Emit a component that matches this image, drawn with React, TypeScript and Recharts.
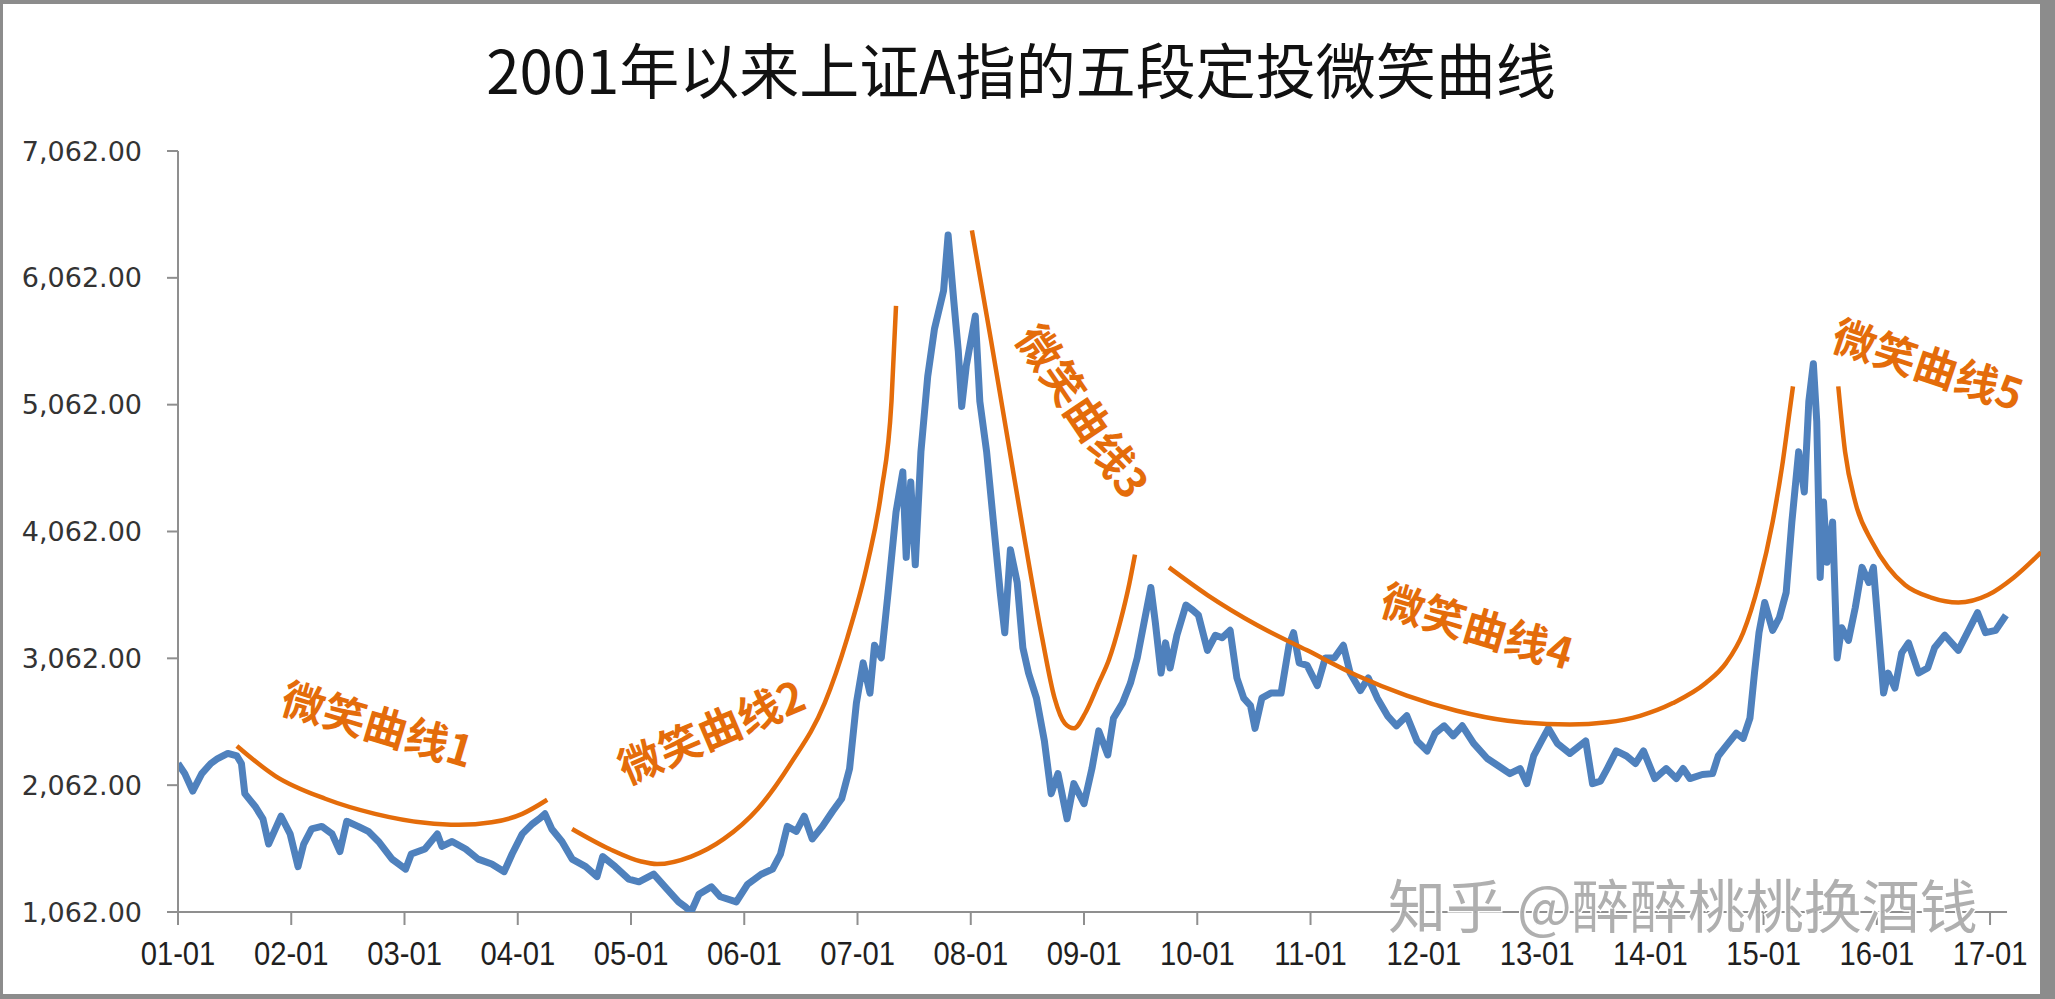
import { LineChart, Line, XAxis, YAxis, ReferenceLine, ReferenceDot } from "recharts";

// 上证A指 (fractional year, index level)
const indexDates = [
  2001.0, 2001.06, 2001.13, 2001.21, 2001.29, 2001.35, 2001.44, 2001.52, 2001.56, 2001.59,
  2001.68, 2001.75, 2001.8, 2001.86, 2001.91, 2001.99, 2002.06, 2002.11, 2002.18, 2002.27,
  2002.36, 2002.43, 2002.49, 2002.59, 2002.68, 2002.77, 2002.89, 2003.01, 2003.06, 2003.18,
  2003.29, 2003.33, 2003.42, 2003.54, 2003.65, 2003.77, 2003.88, 2003.95, 2004.04, 2004.13,
  2004.19, 2004.24, 2004.3, 2004.39, 2004.48, 2004.6, 2004.7, 2004.75, 2004.86, 2004.98,
  2005.07, 2005.2, 2005.32, 2005.42, 2005.48, 2005.53, 2005.6, 2005.71, 2005.79, 2005.93,
  2006.03, 2006.15, 2006.25, 2006.32, 2006.38, 2006.46, 2006.53, 2006.6, 2006.69, 2006.78,
  2006.86, 2006.93, 2006.99, 2007.05, 2007.11, 2007.15, 2007.21, 2007.27, 2007.34, 2007.4,
  2007.43, 2007.47, 2007.51, 2007.56, 2007.62, 2007.68, 2007.76, 2007.8, 2007.85, 2007.89,
  2007.92, 2007.96, 2008.04, 2008.08, 2008.14, 2008.2, 2008.26, 2008.3, 2008.35, 2008.41,
  2008.46, 2008.51, 2008.58, 2008.65, 2008.71, 2008.77, 2008.85, 2008.91, 2009.0, 2009.07,
  2009.13, 2009.21, 2009.26, 2009.34, 2009.41, 2009.47, 2009.53, 2009.59, 2009.63, 2009.68,
  2009.72, 2009.76, 2009.82, 2009.9, 2009.96, 2010.01, 2010.09, 2010.16, 2010.22, 2010.29,
  2010.35, 2010.41, 2010.47, 2010.51, 2010.57, 2010.65, 2010.74, 2010.81, 2010.85, 2010.9,
  2010.97, 2011.06, 2011.13, 2011.21, 2011.29, 2011.35, 2011.44, 2011.51, 2011.59, 2011.68,
  2011.76, 2011.85, 2011.94, 2012.03, 2012.1, 2012.18, 2012.26, 2012.34, 2012.44, 2012.56,
  2012.66, 2012.76, 2012.85, 2012.91, 2012.97, 2013.04, 2013.1, 2013.18, 2013.29, 2013.43,
  2013.49, 2013.56, 2013.62, 2013.7, 2013.79, 2013.87, 2013.94, 2014.04, 2014.14, 2014.23,
  2014.29, 2014.35, 2014.46, 2014.55, 2014.6, 2014.67, 2014.76, 2014.82, 2014.88, 2014.92,
  2014.96, 2015.01, 2015.08, 2015.14, 2015.2, 2015.25, 2015.31, 2015.36, 2015.4, 2015.44,
  2015.47, 2015.5, 2015.53, 2015.56, 2015.61, 2015.65, 2015.69, 2015.75, 2015.81, 2015.87,
  2015.93, 2015.97, 2016.01, 2016.06, 2016.1, 2016.16, 2016.22, 2016.28, 2016.37, 2016.45,
  2016.51, 2016.6, 2016.72, 2016.8, 2016.89, 2016.96, 2017.05, 2017.14,
];
const indexValues = [
  2233, 2153, 2015, 2153, 2233, 2272, 2312, 2292, 2233, 1995,
  1896, 1797, 1598, 1717, 1817, 1678, 1420, 1598, 1717, 1737,
  1678, 1539, 1777, 1737, 1698, 1618, 1479, 1400, 1519, 1559,
  1678, 1579, 1618, 1559, 1479, 1440, 1380, 1519, 1678, 1757,
  1797, 1836, 1717, 1618, 1479, 1420, 1341, 1499, 1420, 1321,
  1300, 1360, 1241, 1142, 1103, 1062, 1202, 1261, 1182, 1142,
  1281, 1360, 1400, 1519, 1737, 1698, 1817, 1638, 1737, 1856,
  1955, 2193, 2709, 3026, 2788, 3165, 3065, 3581, 4215, 4532,
  3858, 4453, 3799, 4691, 5286, 5662, 5960, 6400, 5880, 5484,
  5048, 5365, 5761, 5088, 4691, 4136, 3581, 3264, 3918, 3660,
  3145, 2946, 2748, 2411, 1995, 2153, 1797, 2074, 1916, 2193,
  2490, 2300, 2590, 2709, 2867, 3065, 3343, 3620, 3343, 2946,
  3184, 2986, 3244, 3482, 3442, 3402, 3125, 3244, 3224, 3283,
  2907, 2748, 2689, 2510, 2748, 2788, 2788, 3165, 3264, 3026,
  3006, 2847, 3065, 3065, 3165, 2946, 2808, 2907, 2748, 2609,
  2530, 2609, 2411, 2332, 2471, 2530, 2451, 2530, 2391, 2272,
  2213, 2153, 2193, 2074, 2292, 2411, 2510, 2391, 2312, 2411,
  2074, 2094, 2193, 2332, 2292, 2233, 2332, 2114, 2193, 2114,
  2193, 2114, 2146, 2153, 2292, 2372, 2471, 2431, 2590, 2946,
  3264, 3502, 3283, 3383, 3581, 4136, 4691, 4374, 5088, 5385,
  4929, 3700, 4294, 3819, 4136, 3065, 3303, 3204, 3462, 3779,
  3660, 3779, 3343, 2788, 2946, 2827, 3105, 3184, 2946, 2986,
  3145, 3244, 3125, 3264, 3422, 3264, 3283, 3402,
];

// the five hand-drawn smile curves
const smile1Dates = [2001.52, 2001.86, 2002.3, 2002.74, 2003.18, 2003.48, 2003.77, 2004.04, 2004.26];
const smile1Values = [2371, 2134, 1955, 1836, 1765, 1749, 1769, 1836, 1947];
const smile2Dates = [2004.48, 2004.81, 2005.09, 2005.23, 2005.53, 2005.82, 2006.12, 2006.41, 2006.71, 2006.91, 2007.09, 2007.21, 2007.3, 2007.34];
const smile2Values = [1717, 1559, 1460, 1440, 1499, 1638, 1876, 2233, 2709, 3224, 3819, 4374, 5088, 5841];
const smile3Dates = [2008.01, 2008.18, 2008.33, 2008.48, 2008.63, 2008.74, 2008.83, 2008.91, 2009.01, 2009.13, 2009.22, 2009.32, 2009.4, 2009.45];
const smile3Values = [6436, 5563, 4770, 3978, 3224, 2748, 2550, 2510, 2629, 2867, 3050, 3350, 3650, 3880];
const smile4Dates = [2009.75, 2010.09, 2010.53, 2010.97, 2011.41, 2011.85, 2012.29, 2012.74, 2013.29, 2013.62, 2013.91, 2014.2, 2014.49, 2014.67, 2014.82, 2014.96, 2015.08, 2015.17, 2015.23, 2015.26];
const smile4Values = [3779, 3561, 3323, 3125, 2927, 2768, 2649, 2570, 2540, 2558, 2609, 2709, 2867, 3026, 3264, 3660, 4136, 4612, 5008, 5206];
const smile5Dates = [2015.66, 2015.72, 2015.81, 2015.96, 2016.1, 2016.25, 2016.48, 2016.72, 2016.98, 2017.21, 2017.45];
const smile5Values = [5206, 4691, 4294, 3977, 3779, 3640, 3541, 3502, 3561, 3700, 3898];

const smileLabels = ["微笑曲线1", "微笑曲线2", "微笑曲线3", "微笑曲线4", "微笑曲线5"];
const smileLabelDates = [2002.77, 2005.7, 2009.01, 2012.48, 2016.46];
const smileLabelValues = [2561, 2506, 5023, 3334, 5398];
const smileLabelAngles = [16.6, -23, 56, 16.6, 18.5];

const xTicks = [2001, 2002, 2003, 2004, 2005, 2006, 2007, 2008, 2009, 2010, 2011, 2012, 2013, 2014, 2015, 2016, 2017];
const xTickLabels = ["01-01", "02-01", "03-01", "04-01", "05-01", "06-01", "07-01", "08-01", "09-01", "10-01", "11-01", "12-01", "13-01", "14-01", "15-01", "16-01", "17-01"];
const yTicks = [1062, 2062, 3062, 4062, 5062, 6062, 7062];
const yTickLabels = ["1,062.00", "2,062.00", "3,062.00", "4,062.00", "5,062.00", "6,062.00", "7,062.00"];

const xStart = 2001;
const xEnd = 2017.45;
const axisEnd = 2017.15;

const zip = (dates: number[], values: number[]) => dates.map((d, i) => ({ d, v: values[i] }));

const indexData = zip(indexDates, indexValues);
const smiles = [
  zip(smile1Dates, smile1Values),
  zip(smile2Dates, smile2Values),
  zip(smile3Dates, smile3Values),
  zip(smile4Dates, smile4Values),
  zip(smile5Dates, smile5Values),
];

const BLUE = "#4f81bd";
const ORANGE = "#e46c0a";
const AXIS = "#8f8f8f";

const XTick = (props: any) => {
  const { x, y, payload } = props;
  const label = xTickLabels[xTicks.indexOf(payload.value)];
  return (
    <g transform={`translate(${x},${y})`}>
      <text
        x={0}
        y={0}
        dy="0.71em"
        textAnchor="middle"
        transform="scale(0.86,1)"
        fontFamily="'Liberation Sans', Arial, sans-serif"
        fontSize={34}
        fill="#1f1f1f"
      >
        {label}
      </text>
    </g>
  );
};

const smileLabel = (text: string, angle: number) => (props: any) => {
  const vb = props.viewBox || {};
  const cx = (vb.x || 0) + (vb.width || 0) / 2;
  const cy = (vb.y || 0) + (vb.height || 0) / 2;
  return (
    <text
      x={cx}
      y={cy}
      transform={`rotate(${angle} ${cx} ${cy})`}
      textAnchor="middle"
      dominantBaseline="central"
      fontFamily="'Noto Sans CJK SC', sans-serif"
      fontWeight={700}
      fontSize={43}
      fill={ORANGE}
    >
      {text}
    </text>
  );
};

export default function App() {
  return (
    <div style={{ position: "absolute", left: 0, top: 0, width: 2055, height: 999, background: "#8c8c8c" }}>
      <div style={{ position: "absolute", left: 3, top: 4, width: 2037, height: 990, background: "#ffffff" }} />

      <div style={{ position: "absolute", left: 0, top: 0 }}>
        <LineChart width={2055} height={999} margin={{ top: 151, right: 14, bottom: 37, left: 0 }}>
          <XAxis
            type="number"
            dataKey="d"
            domain={[xStart, xEnd]}
            allowDataOverflow
            ticks={xTicks}
            interval={0}
            axisLine={false}
            tickLine={{ stroke: AXIS, strokeWidth: 2 }}
            tickSize={13}
            tickMargin={16}
            height={50}
            tick={<XTick />}
          />
          <YAxis
            type="number"
            domain={[1062, 7062]}
            allowDataOverflow
            ticks={yTicks}
            interval={0}
            width={178}
            axisLine={{ stroke: AXIS, strokeWidth: 2 }}
            tickLine={{ stroke: AXIS, strokeWidth: 2 }}
            tickSize={11}
            tickMargin={25}
            tickFormatter={(v: number) => yTickLabels[yTicks.indexOf(v)]}
            tick={{ fontFamily: "'DejaVu Sans', sans-serif", fontSize: 27, fill: "#333333" }}
          />
          <ReferenceLine
            segment={[{ x: xStart, y: 1062 }, { x: axisEnd, y: 1062 }]}
            stroke={AXIS}
            strokeWidth={2}
            ifOverflow="visible"
          />
          <Line
            data={indexData}
            dataKey="v"
            type="linear"
            stroke={BLUE}
            strokeWidth={7}
            strokeLinejoin="round"
            dot={false}
            isAnimationActive={false}
          />
          {smiles.map((s, i) => (
            <Line
              key={i}
              data={s}
              dataKey="v"
              type="monotone"
              stroke={ORANGE}
              strokeWidth={4.5}
              dot={false}
              isAnimationActive={false}
            />
          ))}
          {smileLabels.map((t, i) => (
            <ReferenceDot
              key={t}
              x={smileLabelDates[i]}
              y={smileLabelValues[i]}
              r={0}
              fill="none"
              stroke="none"
              label={smileLabel(t, smileLabelAngles[i])}
            />
          ))}
        </LineChart>
      </div>

      <svg width={2055} height={999} style={{ position: "absolute", left: 0, top: 0, pointerEvents: "none" }}>
        <text
          x={1021}
          y={94}
          textAnchor="middle"
          fontFamily="'Noto Sans CJK SC', sans-serif"
          fontSize={60}
          fill="#111111"
        >
          2001年以来上证A指的五段定投微笑曲线
        </text>
        <text
          x={1388}
          y={928}
          fontFamily="'Noto Sans CJK SC', sans-serif"
          fontSize={58}
          fill="#a6a6a6"
          fillOpacity={0.9}
          stroke="#ffffff"
          strokeWidth={3}
          paintOrder="stroke"
        >
          知乎 @醉醉桃桃换酒钱
        </text>
      </svg>
    </div>
  );
}
